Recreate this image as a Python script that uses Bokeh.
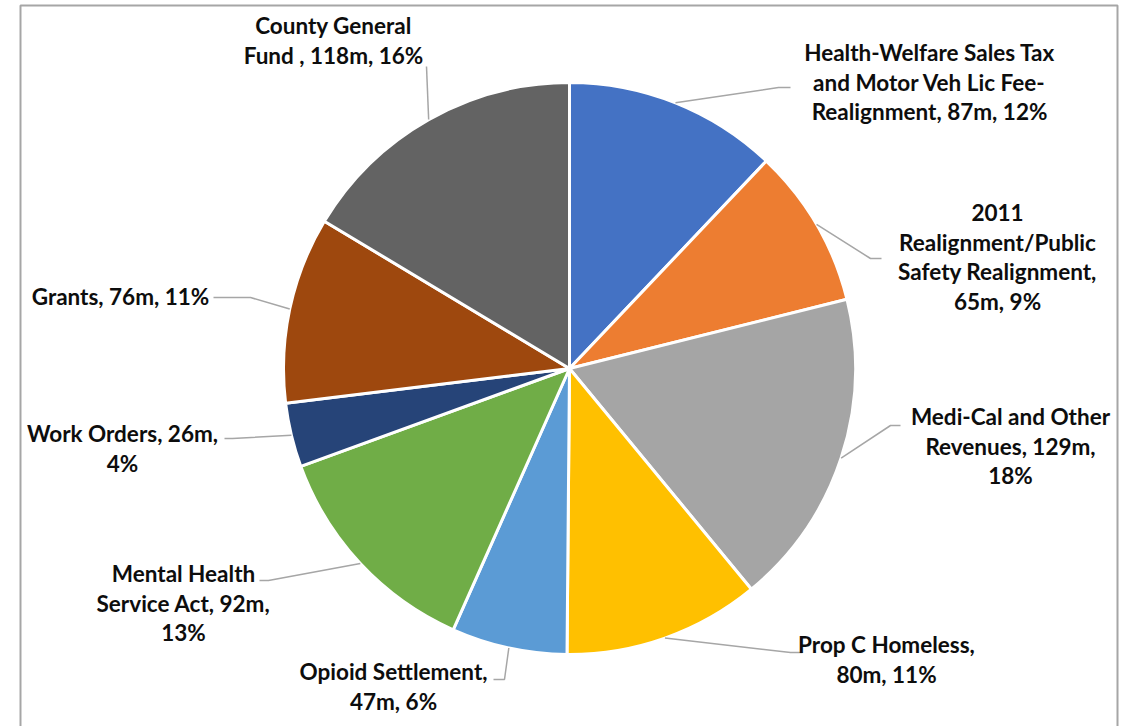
import math
from bokeh.plotting import figure
from bokeh.models import Range1d, ColumnDataSource
from bokeh.core.properties import value
from bokeh.embed import file_html
from bokeh.resources import INLINE

# ---------------- data ----------------
categories = [
    "Health-Welfare Sales Tax and Motor Veh Lic Fee-Realignment",
    "2011 Realignment/Public Safety Realignment",
    "Medi-Cal and Other Revenues",
    "Prop C Homeless",
    "Opioid Settlement",
    "Mental Health Service Act",
    "Work Orders",
    "Grants",
    "County General Fund ",
]
values_m = [87, 65, 129, 80, 47, 92, 26, 76, 118]
pct_labels = ["12%", "9%", "18%", "11%", "6%", "13%", "4%", "11%", "16%"]

# ---------------- styles / layout ----------------
colors = ["#4472C4", "#ED7D31", "#A5A5A5", "#FFC000", "#5B9BD5",
          "#70AD47", "#264478", "#9E480E", "#636363"]

# label line templates ({v}=value, {p}=percent)
label_templates = [
    ["Health-Welfare Sales Tax", "and Motor Veh Lic Fee-", "Realignment, {v}m, {p}"],
    ["2011", "Realignment/Public", "Safety Realignment,", "{v}m, {p}"],
    ["Medi-Cal and Other", "Revenues, {v}m,", "{p}"],
    ["Prop C Homeless,", "{v}m, {p}"],
    ["Opioid Settlement,", "{v}m, {p}"],
    ["Mental Health", "Service Act, {v}m,", "{p}"],
    ["Work Orders, {v}m,", "{p}"],
    ["Grants, {v}m, {p}"],
    ["County General", "Fund , {v}m, {p}"],
]
# label block: center x, first-line y (page pixels), line spacing
label_pos = [(929, 52), (997, 212), (1010, 416), (886, 644), (393, 671),
             (183, 573), (122, 433), (120, 296), (333, 25)]
line_step = 29.7
# leader-line elbow points (page pixels), after the start on the pie edge
leader_elbows = [
    [(778, 87), (790, 87)],
    [(870, 258), (881, 258)],
    [(890, 425), (900, 425)],
    [(790, 652), (802, 652)],
    [(504, 679), (493, 679)],
    [(268, 580), (259, 580)],
    [(232, 438), (224, 438)],
    [(250, 297), (213, 297)],
    [(426, 66)],
]

CX, CY, R = 569, 368, 286          # pie centre / radius in page pixels
W, H = 1122, 726


def Y(py):
    return H - py


p = figure(width=W, height=H, x_range=Range1d(0, W), y_range=Range1d(0, H),
           output_backend="svg", toolbar_location=None, min_border=0)
p.axis.visible = False
p.grid.visible = False
p.outline_line_color = None
p.background_fill_color = "white"
p.border_fill_color = "white"

# chart border
p.multi_line(xs=[[20, 20, 1117, 1117]], ys=[[Y(730), Y(5), Y(5), Y(730)]],
             line_color="#A6A6A6", line_width=2)

# wedges
total = sum(values_m)
starts, ends, mids = [], [], []
cum = 0
for v in values_m:
    a0 = math.pi / 2 - 2 * math.pi * (cum + v) / total
    a1 = math.pi / 2 - 2 * math.pi * cum / total
    starts.append(a0)
    ends.append(a1)
    mids.append((a0 + a1) / 2)
    cum += v

src = ColumnDataSource(dict(cat=categories, val=values_m, start=starts, end=ends, color=colors))
p.wedge(x=CX, y=Y(CY), radius=R, radius_units="screen", start_angle="start", end_angle="end",
        fill_color="color", line_color="white", line_width=3, source=src)

# leader lines
lx, ly = [], []
for m, elb in zip(mids, leader_elbows):
    sx = CX + R * math.cos(m)
    sy = CY - R * math.sin(m)
    xs = [sx] + [e[0] for e in elb]
    ys = [Y(sy)] + [Y(e[1]) for e in elb]
    lx.append(xs)
    ly.append(ys)
p.multi_line(xs=lx, ys=ly, line_color="#A6A6A6", line_width=1.5)

# labels
tx, ty, tt = [], [], []
for tmpl, v, pc, (cx, y0) in zip(label_templates, values_m, pct_labels, label_pos):
    for i, line in enumerate(tmpl):
        tx.append(cx)
        ty.append(Y(y0 + i * line_step))
        tt.append(line.format(v=v, p=pc))
p.text(x=tx, y=ty, text=tt, text_font=value("Lato"), text_font_style="bold",
       text_font_size="22.5px", text_align="center", text_baseline="middle",
       text_color="#0D0D0D")

open("out.html", "w").write(file_html(p, INLINE))
